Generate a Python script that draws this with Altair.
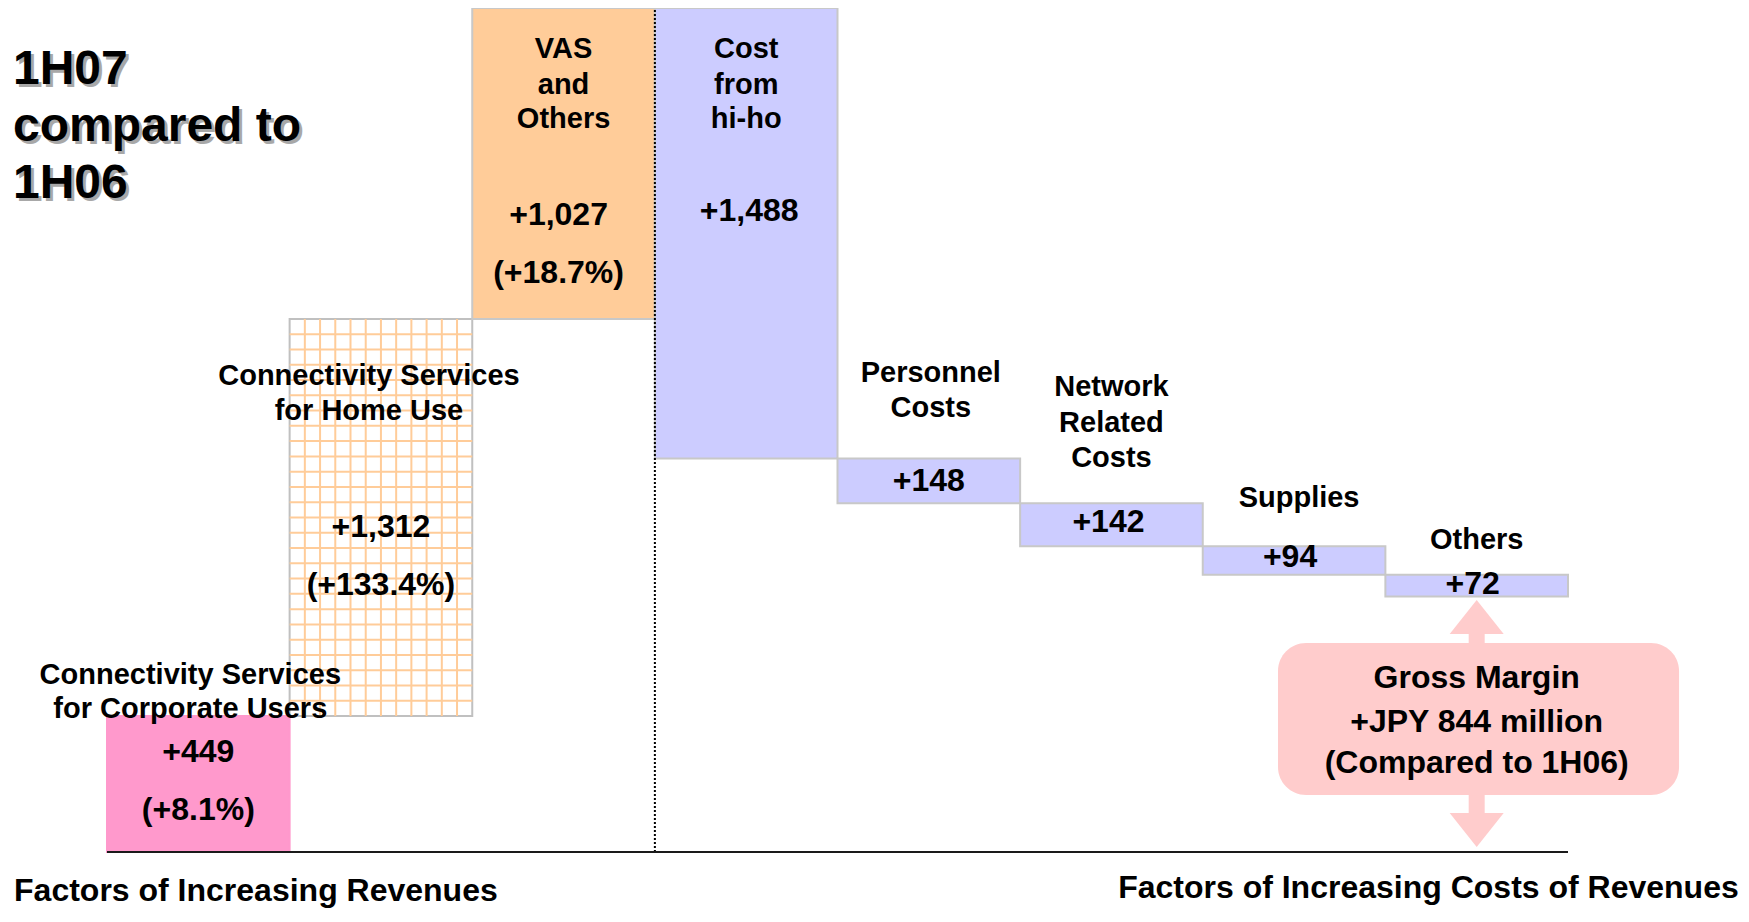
import altair as alt
import pandas as pd

# ---------------- data ----------------
categories = [
    "Connectivity Services|for Corporate Users",
    "Connectivity Services|for Home Use",
    "VAS|and|Others",
    "Cost|from|hi-ho",
    "Personnel|Costs",
    "Network|Related|Costs",
    "Supplies",
    "Others",
]
groups = ["revenue", "revenue", "revenue", "cost", "cost", "cost", "cost", "cost"]
changes = [449, 1312, 1027, 1488, 148, 142, 94, 72]
pct_changes = ["+8.1%", "+133.4%", "+18.7%", "", "", "", "", ""]
gross_margin = 844
title_lines = ["1H07", "compared to", "1H06"]
margin_lines = ["Gross Margin", "+JPY 844 million", "(Compared to 1H06)"]
footer_left = "Factors of Increasing Revenues"
footer_right = "Factors of Increasing Costs of Revenues"

# ---------------- styles / layout ----------------
FILLS = ["#FF99CC", "#FFFFFF", "#FFCC99", "#CCCCFF", "#CCCCFF", "#CCCCFF", "#CCCCFF", "#CCCCFF"]
STROKES = ["#FF99CC", "#C0C0C0", "#C8C8C8", "#C8C8C8", "#C8C8C8", "#C8C8C8", "#C8C8C8", "#C8C8C8"]
GRID_COLOR = "#FFCC99"
PINK = "#FFCCCC"
FONT = "Liberation Sans"

PLOT_W, PLOT_H = 1733, 902
BAR_PX = 182.625          # pixel width of one bar slot
LEFT_PX = 99              # pixel position of first bar's left edge
BASE_PX = 844             # pixel position of the zero line

# waterfall geometry
rows = []
cum = 0
for i, (cat, g, v, p) in enumerate(zip(categories, groups, changes, pct_changes)):
    start = cum
    end = cum + v if g == "revenue" else cum - v
    cum = end
    rows.append(dict(i=i, x=i, x2=i + 1, start=start, end=end, top=max(start, end),
                     fill=FILLS[i], stroke=STROKES[i], cat=cat, v=v, pct=p))
bars_df = pd.DataFrame(rows)
TOTAL = max(bars_df["top"])

ux = 1.0 / BAR_PX               # data units per pixel (x)
uy = TOTAL / BASE_PX            # data units per pixel (y)
x_scale = alt.Scale(domain=[-LEFT_PX * ux, (PLOT_W - LEFT_PX) * ux], nice=False, zero=False)
y_scale = alt.Scale(domain=[TOTAL - PLOT_H * uy, TOTAL], nice=False, zero=False)

# label layout: per bar, (line offsets in px from bar top, x shift px) for category lines,
# then value/pct offsets
cat_layout = {
    0: ([-32, 2], -8), 1: ([66, 101], -12), 2: ([50, 86, 120], 0), 3: ([50, 86, 120], 0),
    4: ([-76.5, -41.5], 2), 5: ([-107, -71.5, -36.5], 0), 6: ([-39.5], 5), 7: ([-25.5], 0),
}
val_layout = {
    0: (46, 104, 0), 1: (218.5, 276, 0), 2: (217, 275, -5), 3: (213, None, 3),
    4: (32.5, None, 0), 5: (29, None, -3), 6: (21, None, -4), 7: (19.5, None, -4),
}
lab = []
for r in rows:
    offs, dx = cat_layout[r["i"]]
    for line, off in zip(r["cat"].split("|"), offs):
        lab.append(dict(x=r["i"] + 0.5 + dx * ux, y=r["top"] - off * uy, t=line, size=29))
    voff, poff, vdx = val_layout[r["i"]]
    lab.append(dict(x=r["i"] + 0.5 + vdx * ux, y=r["top"] - voff * uy, t=f"+{r['v']:,}", size=32))
    if r["pct"]:
        lab.append(dict(x=r["i"] + 0.5 + vdx * ux, y=r["top"] - poff * uy, t=f"({r['pct']})", size=32))
lab_df = pd.DataFrame(lab)

X = lambda f: alt.X(f, type="quantitative", scale=x_scale, axis=None)
Y = lambda f: alt.Y(f, type="quantitative", scale=y_scale, axis=None)

# ---------------- layers ----------------
bars = alt.Chart(bars_df).mark_rect(strokeWidth=2).encode(
    x=X("x"), x2="x2", y=Y("start"), y2="end",
    fill=alt.Fill("fill:N", scale=None), stroke=alt.Stroke("stroke:N", scale=None),
)

# check pattern inside the home-use bar
hb = rows[1]
grid = []
for m in range(1, 12):
    grid.append(dict(x=hb["x"] + m / 12, x2=hb["x"] + m / 12, y=hb["start"], y2=hb["end"]))
n_rows = 26
for m in range(1, n_rows):
    yy = hb["start"] + m * (hb["end"] - hb["start"]) / n_rows
    grid.append(dict(x=hb["x"], x2=hb["x2"], y=yy, y2=yy))
grid_layer = alt.Chart(pd.DataFrame(grid)).mark_rule(color=GRID_COLOR, strokeWidth=2).encode(
    x=X("x"), x2="x2", y=Y("y"), y2="y2")

divider = alt.Chart(pd.DataFrame([dict(x=3, y=0, y2=TOTAL)])).mark_rule(
    color="black", strokeWidth=2, strokeDash=[2, 2]).encode(x=X("x"), y=Y("y"), y2="y2")
baseline = alt.Chart(pd.DataFrame([dict(x=0, x2=len(rows), y=0)])).mark_rule(
    color="#1a1a1a", strokeWidth=2).encode(x=X("x"), x2="x2", y=Y("y"))

# gross margin arrow + box
ax = 7.5
head_h = 34 * uy
up_tip = gross_margin - 3.5 * uy
down_tip = 5 * uy
shaft = alt.Chart(pd.DataFrame([dict(x=ax, y=up_tip - head_h + 5 * uy, y2=down_tip + head_h - 5 * uy)])).mark_rule(
    color=PINK, strokeWidth=16).encode(x=X("x"), y=Y("y"), y2="y2")
heads_up = alt.Chart(pd.DataFrame([dict(x=ax, y=up_tip - head_h / 2)])).mark_point(
    shape="M0,-0.63L1,0.63L-1,0.63Z", size=2916, filled=True, color=PINK, opacity=1, strokeWidth=0
).encode(x=X("x"), y=Y("y"))
heads_down = alt.Chart(pd.DataFrame([dict(x=ax, y=down_tip + head_h / 2)])).mark_point(
    shape="M0,0.63L1,-0.63L-1,-0.63Z", size=2916, filled=True, color=PINK, opacity=1, strokeWidth=0
).encode(x=X("x"), y=Y("y"))
box = alt.Chart(pd.DataFrame([dict(x=6.412, x2=8.608, y=690.4, y2=188.3)])).mark_rect(
    cornerRadius=28, color=PINK).encode(x=X("x"), x2="x2", y=Y("y"), y2="y2")
box_text = alt.Chart(pd.DataFrame([dict(x=ax, y=yy, t=t) for t, yy in zip(margin_lines, [541.7, 396.4, 261.0])])).mark_text(
    font=FONT, fontWeight="bold", fontSize=32, align="center", baseline="alphabetic", color="black"
).encode(x=X("x"), y=Y("y"), text="t:N")

labels = alt.Chart(lab_df).mark_text(
    font=FONT, fontWeight="bold", align="center", baseline="alphabetic", color="black"
).encode(x=X("x"), y=Y("y"), text="t:N", size=alt.Size("size:Q", scale=None))

title_df = pd.DataFrame([dict(x=-0.5147, y=yy, t=t) for t, yy in zip(title_lines, [2536.9, 2348.6, 2160.4])])
title_shadow = alt.Chart(title_df).mark_text(
    font=FONT, fontWeight="bold", fontSize=48, align="left", baseline="alphabetic", color="#A8A8A8", dx=3, dy=3
).encode(x=X("x"), y=Y("y"), text="t:N")
title = alt.Chart(title_df).mark_text(
    font=FONT, fontWeight="bold", fontSize=48, align="left", baseline="alphabetic", color="black"
).encode(x=X("x"), y=Y("y"), text="t:N")

foot_left = alt.Chart(pd.DataFrame([dict(x=-0.509, y=-161.9, t=footer_left)])).mark_text(
    font=FONT, fontWeight="bold", fontSize=32, align="left", baseline="alphabetic", color="black"
).encode(x=X("x"), y=Y("y"), text="t:N")
foot_right = alt.Chart(pd.DataFrame([dict(x=8.935, y=-152.0, t=footer_right)])).mark_text(
    font=FONT, fontWeight="bold", fontSize=32, align="right", baseline="alphabetic", color="black"
).encode(x=X("x"), y=Y("y"), text="t:N")

chart = alt.layer(
    bars, grid_layer, divider, baseline, shaft, heads_up, heads_down, box, box_text,
    labels, title_shadow, title, foot_left, foot_right,
).properties(
    width=PLOT_W, height=PLOT_H, autosize=alt.AutoSizeParams(type="none"), padding=0,
    background="white",
).configure_view(strokeWidth=0)

chart.save("out.html", embed_options={"renderer": "svg", "actions": False})
